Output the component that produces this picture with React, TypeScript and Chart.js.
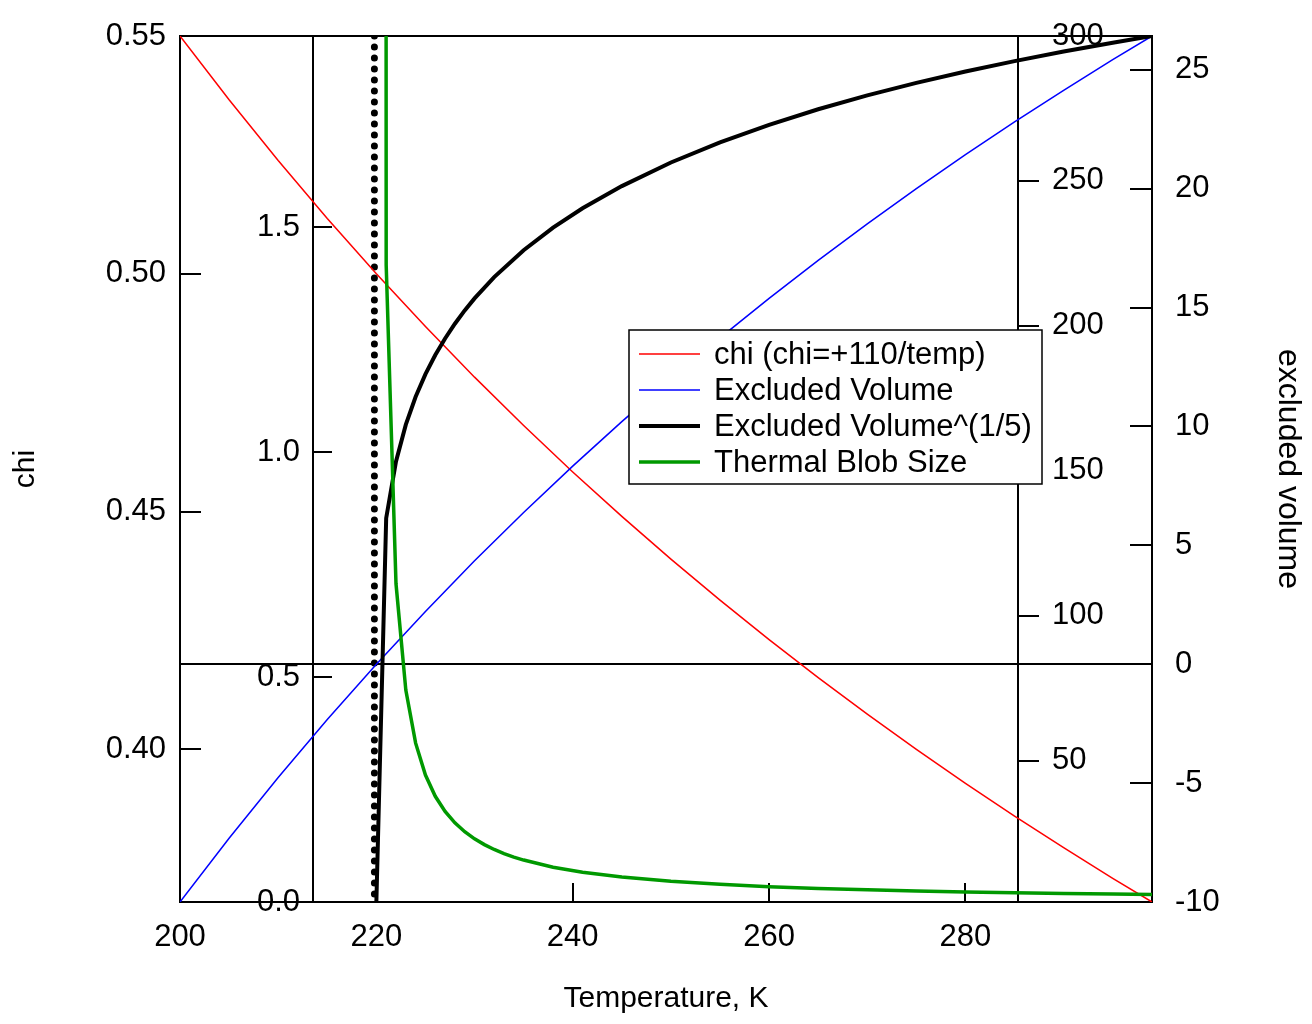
import React, { useEffect, useRef } from 'react';
import { Chart, registerables } from 'chart.js';

Chart.register(...registerables);

// ---------- data ----------
const TEMP_K = [200, 205, 210, 215, 220, 225, 230, 235, 240, 245, 250, 255, 260, 265, 270, 275, 280, 285, 290, 295, 299];
const CHI = [0.55, 0.53659, 0.52381, 0.51163, 0.5, 0.48889, 0.47826, 0.46809, 0.45833, 0.44898, 0.44, 0.43137, 0.42308, 0.41509, 0.40741, 0.4, 0.39286, 0.38596, 0.37931, 0.37288, 0.36789];
const EXCLUDED_VOLUME = [-10, -7.317, -4.762, -2.326, 0, 2.222, 4.348, 6.383, 8.333, 10.204, 12, 13.725, 15.385, 16.981, 18.519, 20, 21.429, 22.807, 24.138, 25.424, 26.421];

const TEMP_ROOT_K = [220, 221, 222, 223, 224, 225, 226, 227, 228, 229, 230, 232, 235, 238, 241, 245, 250, 255, 260, 265, 270, 275, 280, 285, 290, 295, 299];
const EXCLUDED_VOLUME_ROOT = [0, 0.8533, 0.9793, 1.0611, 1.123, 1.1732, 1.2157, 1.2526, 1.2854, 1.3149, 1.3417, 1.3891, 1.4488, 1.4988, 1.5419, 1.5913, 1.6438, 1.6886, 1.7275, 1.762, 1.7928, 1.8206, 1.8459, 1.869, 1.8904, 1.9101, 1.9249];

// first value: diverges (off scale) at the theta temperature
const TEMP_BLOB_K = [220, 221, 222, 223, 224, 225, 226, 227, 228, 229, 230, 231, 232, 233, 234, 235, 238, 241, 245, 250, 255, 260, 265, 270, 275, 280, 285, 290, 295, 299];
const THERMAL_BLOB = [100000, 221, 111, 74.33, 56, 45, 37.67, 32.43, 28.5, 25.44, 23, 21, 19.33, 17.92, 16.71, 15.67, 13.22, 11.48, 9.8, 8.333, 7.286, 6.5, 5.889, 5.4, 5, 4.667, 4.385, 4.143, 3.933, 3.785];

// dotted marker at the theta temperature
const THETA_T = [219.8, 219.8];
const THETA_Y = [1.9249, 0];

// ---------- axes ----------
const T_RANGE = [200, 299];
const CHI_RANGE = [0.36789, 0.55];
const EV_RANGE = [-10, 26.421];
const ROOT_RANGE = [0, 1.9249];
const BLOB_RANGE = [1.2, 300];
const ROOT_AXIS_AT_K = 213.55;
const BLOB_AXIS_AT_K = 285.35;

const T_TICKS = [200, 220, 240, 260, 280];
const CHI_TICKS = [0.4, 0.45, 0.5, 0.55];
const ROOT_TICKS = [0, 0.5, 1.0, 1.5];
const BLOB_TICKS = [50, 100, 150, 200, 250, 300];
const EV_TICKS = [-10, -5, 0, 5, 10, 15, 20, 25];

const FONT = "'Liberation Sans', Arial, sans-serif";
const TICK_FONT = { family: FONT, size: 31 };
const TITLE_FONT = { family: FONT, size: 30 };
const RIGHT_TITLE_FONT = { family: FONT, size: 32 };

Chart.defaults.font.family = FONT;
Chart.defaults.color = '#000';

const setTicks = (values: number[]) => (scale: any) => {
  scale.ticks = values.map((v) => ({ value: v }));
};

const noPad = (width?: number) => (s: any) => {
  if (width !== undefined) s.width = width;
  s.paddingTop = 0;
  s.paddingBottom = 0;
};

const pts = (xs: number[], ys: number[]) => xs.map((x, i) => ({ x, y: ys[i] }));

// labels of the two axes placed inside the plot (taken from the scales' own ticks)
const innerAxisLabels = {
  id: 'innerAxisLabels',
  afterDatasetsDraw(chart: any) {
    const { ctx } = chart;
    const xScale = chart.scales.x;
    const draw = (id: string, dx: number, align: string, fmt: (v: number) => string) => {
      const s = chart.scales[id];
      const axisX = xScale.getPixelForValue(s.options.position.x);
      ctx.save();
      ctx.font = `31px ${FONT}`;
      ctx.fillStyle = '#000';
      ctx.textAlign = align;
      ctx.textBaseline = 'middle';
      s.ticks.forEach((t: any) => {
        ctx.fillText(fmt(t.value), axisX + dx, s.getPixelForValue(t.value));
      });
      ctx.restore();
    };
    draw('yRoot', -13, 'right', (v) => v.toFixed(1));
    draw('yBlob', 34, 'left', (v) => String(v));
  },
};

const legendPlugin = {
  id: 'boxLegend',
  afterDraw(chart: any) {
    const { ctx, chartArea } = chart;
    const x0 = chartArea.left + 449;
    const y0 = chartArea.top + 294;
    const w = 413;
    const h = 154;
    ctx.save();
    ctx.fillStyle = '#ffffff';
    ctx.fillRect(x0, y0, w, h);
    ctx.strokeStyle = '#000';
    ctx.lineWidth = 1.5;
    ctx.strokeRect(x0, y0, w, h);
    const items = chart.data.datasets.filter((d: any) => d.label);
    items.forEach((ds: any, i: number) => {
      const cy = y0 + 24 + i * 36;
      ctx.beginPath();
      ctx.strokeStyle = ds.borderColor;
      ctx.lineWidth = ds.borderWidth;
      ctx.moveTo(x0 + 10, cy);
      ctx.lineTo(x0 + 71, cy);
      ctx.stroke();
      ctx.fillStyle = '#000';
      ctx.font = `31px ${FONT}`;
      ctx.textBaseline = 'middle';
      ctx.textAlign = 'left';
      ctx.fillText(ds.label, x0 + 85, cy + 1);
    });
    ctx.restore();
  },
};

const border = { display: true, color: '#000', width: 2 };

export default function App() {
  const ref = useRef<HTMLCanvasElement>(null);
  useEffect(() => {
    const chart = new Chart(ref.current as HTMLCanvasElement, {
      type: 'line',
      data: {
        datasets: [
          {
            label: 'chi (chi=+110/temp)',
            data: pts(TEMP_K, CHI),
            xAxisID: 'x',
            yAxisID: 'yChi',
            borderColor: '#ff0000',
            borderWidth: 1.5,
            pointRadius: 0,
            tension: 0,
            order: 3,
          },
          {
            label: 'Excluded Volume',
            data: pts(TEMP_K, EXCLUDED_VOLUME),
            xAxisID: 'x',
            yAxisID: 'yEv',
            borderColor: '#0000ff',
            borderWidth: 1.5,
            pointRadius: 0,
            tension: 0,
            order: 2,
          },
          {
            label: 'Excluded Volume^(1/5)',
            data: pts(TEMP_ROOT_K, EXCLUDED_VOLUME_ROOT),
            xAxisID: 'x',
            yAxisID: 'yRoot',
            borderColor: '#000000',
            borderWidth: 4,
            pointRadius: 0,
            tension: 0,
            order: 1,
          },
          {
            label: 'Thermal Blob Size',
            data: pts(TEMP_BLOB_K, THERMAL_BLOB),
            xAxisID: 'x',
            yAxisID: 'yBlob',
            borderColor: '#009900',
            borderWidth: 3.5,
            pointRadius: 0,
            tension: 0,
            order: 0,
          },
          {
            label: '',
            data: pts(THETA_T, THETA_Y),
            xAxisID: 'x',
            yAxisID: 'yRoot',
            borderColor: '#000000',
            borderWidth: 7,
            borderDash: [0, 11],
            borderCapStyle: 'round',
            pointRadius: 0,
            tension: 0,
            order: 4,
          },
        ],
      },
      options: {
        responsive: false,
        animation: false,
        events: [],
        layout: { padding: 0 },
        plugins: {
          legend: { display: false },
          tooltip: { enabled: false },
        },
        scales: {
          x: {
            type: 'linear',
            position: 'bottom',
            min: T_RANGE[0],
            max: T_RANGE[1],
            afterBuildTicks: setTicks(T_TICKS),
            afterFit: (s: any) => {
              s.height = 122;
            },
            border,
            grid: { display: true, drawOnChartArea: false, drawTicks: true, tickLength: -19, color: '#000', lineWidth: 2 },
            ticks: { font: TICK_FONT, color: '#000', padding: 36, maxRotation: 0, autoSkip: false, callback: (v: any) => String(v) },
            title: { display: true, text: 'Temperature, K', font: TITLE_FONT, color: '#000', padding: { top: 0, bottom: 7 } },
          },
          xTop: {
            type: 'linear',
            position: 'top',
            min: T_RANGE[0],
            max: T_RANGE[1],
            afterFit: (s: any) => {
              s.height = 36;
            },
            border,
            grid: { display: false, drawTicks: false },
            ticks: { display: false },
          },
          yChi: {
            type: 'linear',
            position: 'left',
            min: CHI_RANGE[0],
            max: CHI_RANGE[1],
            afterBuildTicks: setTicks(CHI_TICKS),
            afterFit: noPad(180),
            border,
            grid: { display: true, drawOnChartArea: false, drawTicks: true, tickLength: -21, color: '#000', lineWidth: 2 },
            ticks: { font: TICK_FONT, color: '#000', padding: 35, autoSkip: false, callback: (v: any) => Number(v).toFixed(2) },
            title: { display: true, text: 'chi', font: TITLE_FONT, color: '#000', padding: { top: 8, bottom: 0 } },
          },
          yEv: {
            type: 'linear',
            position: 'right',
            min: EV_RANGE[0],
            max: EV_RANGE[1],
            afterBuildTicks: setTicks(EV_TICKS),
            afterFit: noPad(160),
            border,
            grid: {
              display: true,
              drawOnChartArea: true,
              drawTicks: true,
              tickLength: -22,
              color: (c: any) => (c.tick && c.tick.value === 0 ? '#000' : 'rgba(0,0,0,0)'),
              tickColor: '#000',
              lineWidth: 2,
            },
            ticks: { font: TICK_FONT, color: '#000', padding: 45, autoSkip: false, callback: (v: any) => String(v) },
            title: { display: true, text: 'excluded volume', font: RIGHT_TITLE_FONT, color: '#000', padding: { top: 5, bottom: 0 } },
          },
          yRoot: {
            type: 'linear',
            position: { x: ROOT_AXIS_AT_K },
            min: ROOT_RANGE[0],
            max: ROOT_RANGE[1],
            afterBuildTicks: setTicks(ROOT_TICKS),
            afterFit: noPad(),
            border,
            grid: { display: true, drawOnChartArea: false, drawTicks: true, tickLength: -20, color: '#000', lineWidth: 2 },
            ticks: { display: false },
          },
          yBlob: {
            type: 'linear',
            position: { x: BLOB_AXIS_AT_K },
            min: BLOB_RANGE[0],
            max: BLOB_RANGE[1],
            afterBuildTicks: setTicks(BLOB_TICKS),
            afterFit: noPad(),
            border,
            grid: { display: true, drawOnChartArea: false, drawTicks: true, tickLength: -22, color: '#000', lineWidth: 2 },
            ticks: { display: false },
          },
        },
      } as any,
      plugins: [innerAxisLabels, legendPlugin],
    } as any);
    return () => chart.destroy();
  }, []);

  return (
    <div style={{ position: 'fixed', left: 0, top: 0, width: 1312, height: 1024, background: '#fff' }}>
      <canvas ref={ref} width={1312} height={1024} style={{ display: 'block', width: 1312, height: 1024 }} />
    </div>
  );
}
